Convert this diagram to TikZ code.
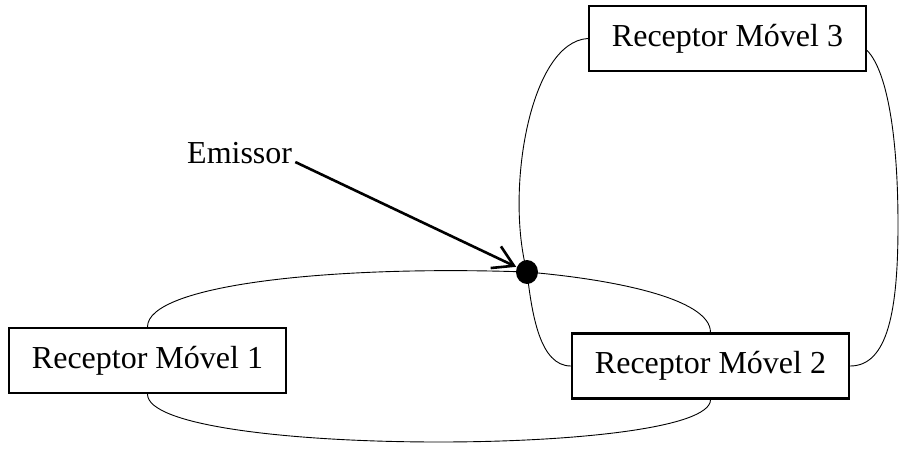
\documentclass[tikz,border=0pt]{standalone}
\usepackage{fontspec}
\setmainfont{Liberation Serif}
\usetikzlibrary{arrows.meta,calc,shapes.geometric}
\tikzset{
  rbox/.style={draw=black, line width=2.3pt, minimum width=277pt, minimum height=65pt, inner sep=0pt, font=\fontsize{32}{37}\selectfont},
  link/.style={line width=0.9pt},
  pointer/.style={line width=2.6pt, -{Straight Barb[length=20pt,width=24pt,line width=2.6pt]}, shorten >=12pt},
  lbl/.style={inner sep=0pt, font=\fontsize{32}{37}\selectfont}
}
\begin{document}
\begin{tikzpicture}[x=1pt,y=-1pt]
\useasboundingbox (0,0) rectangle (900,472);
\node[rbox] (b1) at (147.5,360.5) {Receptor Móvel 1};
\node[rbox] (b2) at (710.5,366) {Receptor Móvel 2};
\node[rbox] (b3) at (727.5,38.5) {Receptor Móvel 3};
\node[ellipse, fill=black, minimum width=22pt, minimum height=24pt, inner sep=0pt] (dot) at (527,272) {};
\node[lbl, anchor=base west] (em) at (187,163) {Emissor};
% horizontal loop
\draw[link] (b1.north) .. controls (147.5,285) and (330,265) .. (dot.center)
  .. controls (610,279) and (710.5,298) .. (b2.north);
\draw[link] (b1.south) .. controls (147.5,457) and (710.5,457) .. (b2.south);
% vertical loop
\draw[link] (b3.west) .. controls (530,42) and (505,190) .. (dot.center)
  .. controls (532,315) and (540,366) .. (b2.west);
\draw[link] ($(b3.east)+(0,12)$) .. controls (888,72) and (898,140) .. (898,225)
  .. controls (898,310) and (888,366) .. (b2.east);
% pointer
\draw[pointer] ($(em.base east)+(3,-1)$) -- (dot.center);
\end{tikzpicture}
\end{document}
